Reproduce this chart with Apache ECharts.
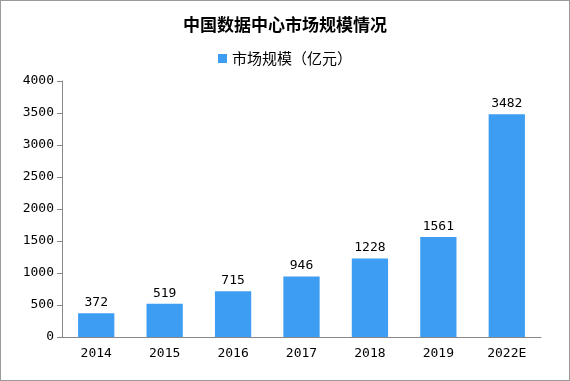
<!DOCTYPE html>
<html><head><meta charset="utf-8">
<script src="https://cdn.jsdelivr.net/npm/echarts@6/dist/echarts.min.js"></script>
<style>html,body{margin:0;padding:0;background:#fff}#c{width:570px;height:381px;box-sizing:border-box;border:1px solid #9a9a9a}</style>
</head><body><div id="c"></div>
<script>
const categories = ['2014','2015','2016','2017','2018','2019','2022E'];
const values = [372,519,715,946,1228,1561,3482];
const seriesName = '市场规模（亿元）';
const titleText = '中国数据中心市场规模情况';
const chart = echarts.init(document.getElementById('c'), null, {renderer:'canvas'});
const font = '"Noto Sans CJK SC", sans-serif';
const numFont = '"DejaVu Sans Mono", monospace';
chart.setOption({
  animation:false,
  title:{text:titleText,left:'center',top:10,textStyle:{fontSize:17,fontWeight:'bold',color:'#000',fontFamily:font}},
  legend:{top:45,left:'center',itemWidth:9,itemHeight:9,itemGap:4,icon:'rect',textStyle:{fontSize:15,color:'#000',fontFamily:font},data:[seriesName]},
  grid:{left:61,right:28,top:80,bottom:43,containLabel:false},
  xAxis:{type:'category',data:categories,axisLine:{lineStyle:{color:'#888'}},axisTick:{lineStyle:{color:'#888'},length:5},axisLabel:{color:'#000',fontSize:13,margin:10,fontFamily:numFont}},
  yAxis:{type:'value',min:0,max:4000,interval:500,splitLine:{show:false},axisLine:{show:true,lineStyle:{color:'#888'}},axisTick:{show:true,length:5,lineStyle:{color:'#888'}},axisLabel:{color:'#000',fontSize:13,margin:8,fontFamily:numFont,formatter:v=>String(v)}},
  series:[{name:seriesName,type:'bar',data:values,barWidth:'53%',itemStyle:{color:'#3D9DF2'},label:{show:true,position:'top',color:'#000',fontSize:13,fontFamily:numFont,distance:4}}]
});
</script></body></html>
